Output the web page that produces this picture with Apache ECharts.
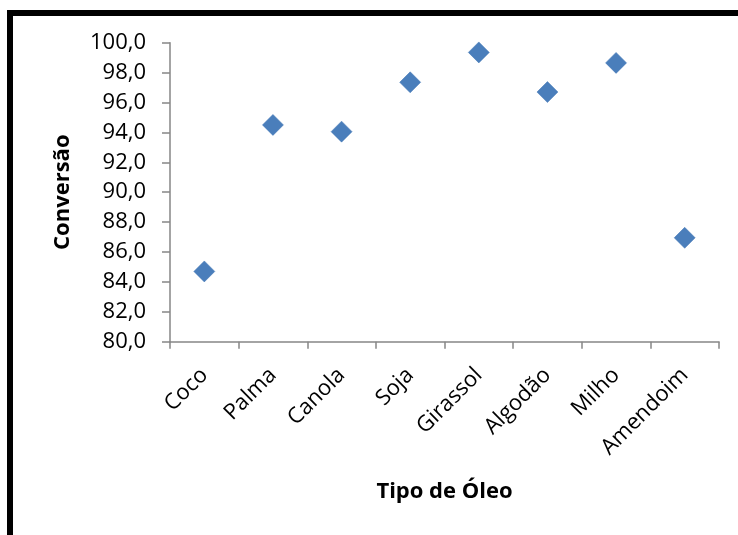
<!DOCTYPE html>
<html><head><meta charset="utf-8">
<script src="https://cdn.jsdelivr.net/npm/echarts@6/dist/echarts.min.js"></script>
<style>html,body{margin:0;padding:0;background:#fff}#c{width:738px;height:535px}</style>
</head><body><div id="c"></div>
<script>
const categories = ['Coco','Palma','Canola','Soja','Girassol','Algodão','Milho','Amendoim'];
const conversao = [84.7, 94.5, 94.05, 97.35, 99.35, 96.7, 98.65, 86.95];
const yTicks = { min: 80, max: 100, step: 2 };

const chart = echarts.init(document.getElementById('c'));
const font = '"Open Sans", "Liberation Sans", sans-serif';
chart.setOption({
  animation: false,
  backgroundColor: '#fff',
  graphic: [{
    type: 'rect', shape: { x: 10, y: 13, width: 800, height: 600 },
    style: { fill: 'none', stroke: '#000', lineWidth: 6 }, z: 10
  }],
  grid: { left: 170, top: 42.7, right: 19, bottom: 193.3, containLabel: false },
  xAxis: {
    type: 'category', data: categories, boundaryGap: true,
    name: 'Tipo de Óleo', nameLocation: 'middle', nameGap: 139,
    nameTextStyle: { fontFamily: font, fontWeight: 'bold', fontSize: 22, color: '#000' },
    axisLine: { lineStyle: { color: '#868686', width: 1.5 } },
    axisTick: { show: true, length: 7, lineStyle: { color: '#868686', width: 1.5 } },
    axisLabel: { rotate: 45, margin: 30, fontFamily: font, fontSize: 22, color: '#000', interval: 0 },
    splitLine: { show: false }
  },
  yAxis: {
    type: 'value', min: yTicks.min, max: yTicks.max, interval: yTicks.step,
    name: 'Conversão', nameLocation: 'middle', nameGap: 96, nameRotate: 90,
    nameTextStyle: { fontFamily: font, fontWeight: 'bold', fontSize: 22, color: '#000' },
    axisLine: { show: true, lineStyle: { color: '#868686', width: 1.5 } },
    axisTick: { show: true, length: 8, lineStyle: { color: '#868686', width: 1.5 } },
    axisLabel: { margin: 24, fontFamily: font, fontSize: 22, color: '#000',
      formatter: v => v.toFixed(1).replace('.', ',') },
    splitLine: { show: false }
  },
  series: [{
    type: 'scatter', data: conversao, symbol: 'diamond', symbolSize: 21,
    itemStyle: { color: '#4A7EBB', opacity: 1, borderColor: '#4377B5', borderWidth: 0.5 }
  }]
});
</script></body></html>
